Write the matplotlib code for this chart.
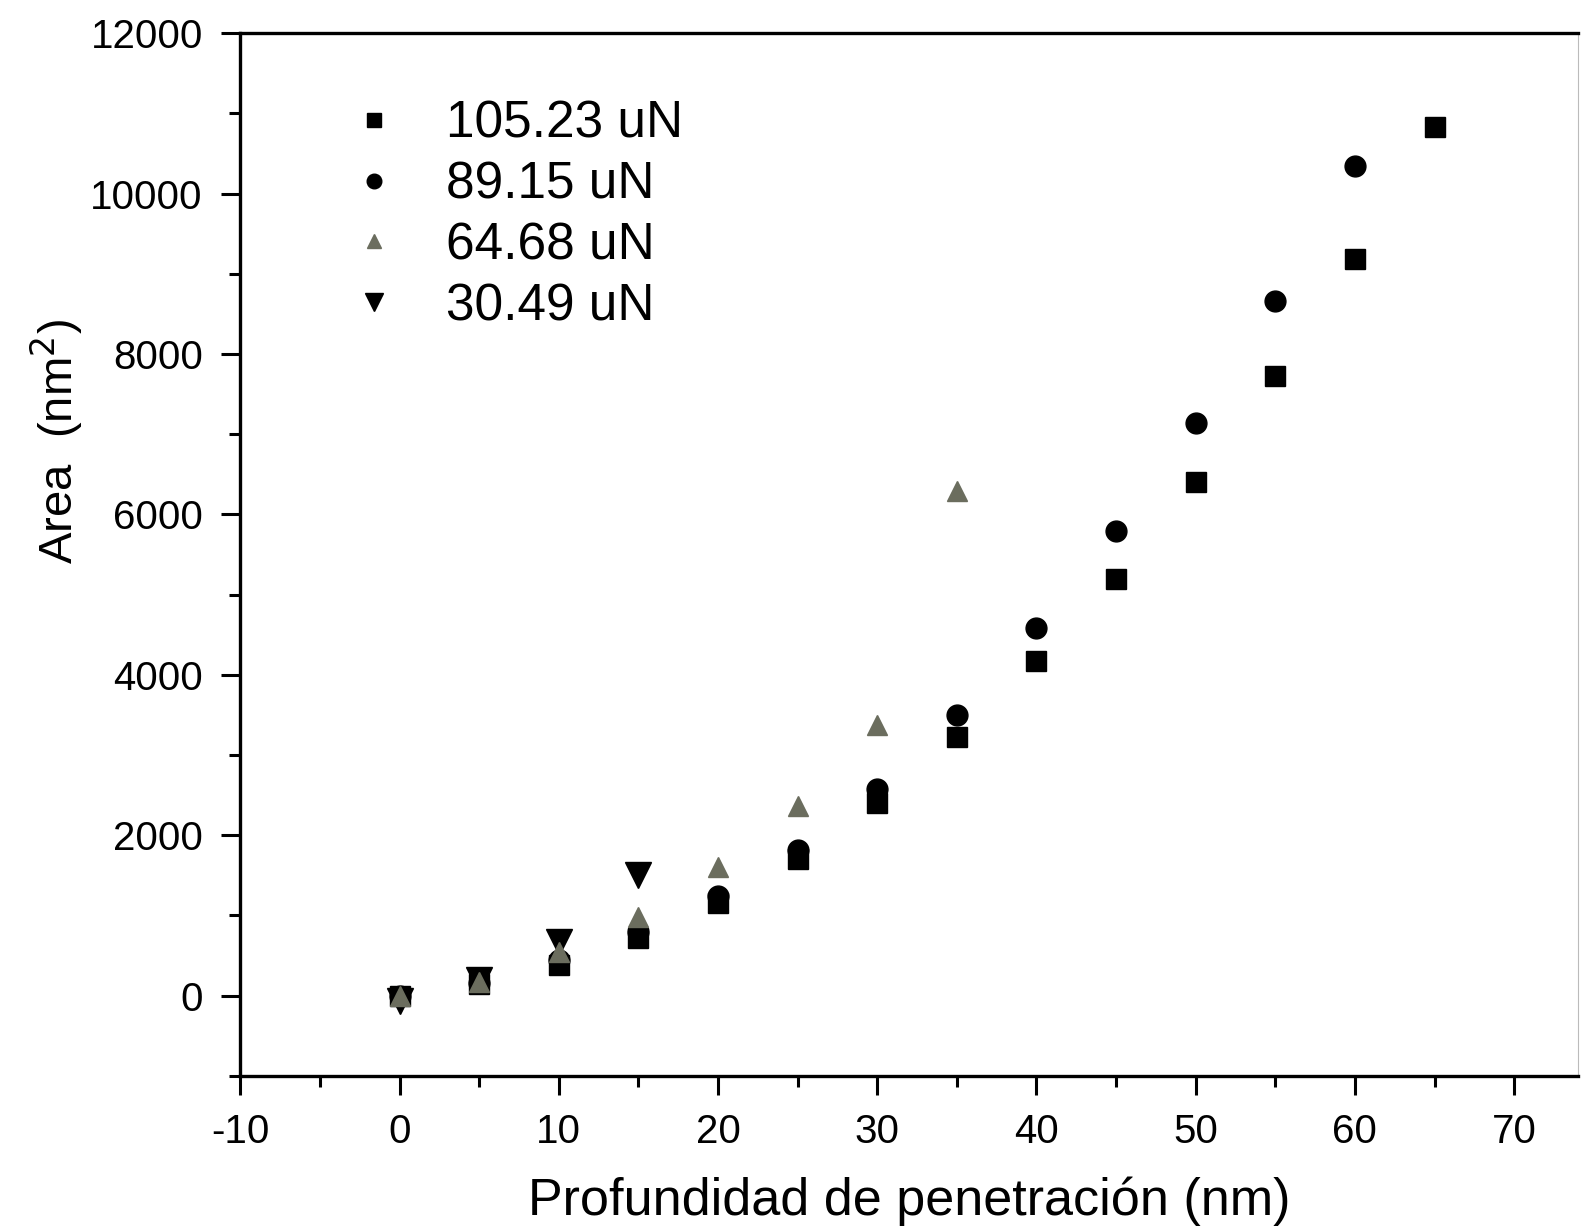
import matplotlib
matplotlib.use("Agg")
import matplotlib.pyplot as plt
from matplotlib.ticker import MultipleLocator

plt.rcParams['font.family'] = ['Liberation Sans', 'DejaVu Sans']
plt.rcParams['axes.unicode_minus'] = False

x_105 = [0, 5, 10, 15, 20, 25, 30, 35, 40, 45, 50, 55, 60, 65]
y_105 = [0, 150, 380, 720, 1150, 1700, 2400, 3230, 4170, 5200, 6400, 7730, 9180, 10830]

x_89 = [0, 5, 10, 15, 20, 25, 30, 35, 40, 45, 50, 55, 60]
y_89 = [0, 160, 450, 800, 1240, 1820, 2580, 3500, 4590, 5800, 7140, 8660, 10350]

x_64 = [0, 5, 10, 15, 20, 25, 30, 35]
y_64 = [0, 170, 540, 980, 1600, 2360, 3370, 6290]

x_30 = [0, 5, 10, 15]
y_30 = [-60, 200, 670, 1500]

labels = ["105.23 uN", "89.15 uN", "64.68 uN", "30.49 uN"]

fig = plt.figure(figsize=(15.81, 12.31), dpi=100)
ax = fig.add_axes([0.152, 0.126, 0.846, 0.847])

ax.plot(x_105, y_105, linestyle='none', marker='s', markersize=15, color='black', label=labels[0], zorder=3)
ax.plot(x_89, y_89, linestyle='none', marker='o', markersize=15, color='black', label=labels[1], zorder=2)
ax.plot(x_64, y_64, linestyle='none', marker='^', markersize=15, color='#6b6d5e', label=labels[2], zorder=4)
ax.plot(x_30, y_30, linestyle='none', marker='v', markersize=19, color='black', label=labels[3], zorder=1)

ax.set_xlim(-10, 74)
ax.set_ylim(-1000, 12000)
ax.xaxis.set_major_locator(MultipleLocator(10))
ax.xaxis.set_minor_locator(MultipleLocator(5))
ax.yaxis.set_major_locator(MultipleLocator(2000))
ax.yaxis.set_minor_locator(MultipleLocator(1000))

ax.tick_params(axis='both', which='major', direction='out', length=14, width=2.2, labelsize=29, pad=13)
ax.tick_params(axis='both', which='minor', direction='out', length=8, width=2.2)
ax.tick_params(top=False, right=False)
for s in ax.spines.values():
    s.set_linewidth(2.4)
ax.spines['right'].set_linewidth(0.8)
ax.spines['right'].set_color('#bbbbbb')

ax.set_xlabel("Profundidad de penetración (nm)", fontsize=37.5, labelpad=18)
ax.set_ylabel("Area  (nm$^2$)", fontsize=34, labelpad=4)
ax.yaxis.label.set_y(0.608)

leg = ax.legend(loc='upper left', bbox_to_anchor=(0.046, 0.956), frameon=False, fontsize=37,
                markerscale=0.7, handletextpad=0.4, labelspacing=0.23, borderaxespad=0)

fig.savefig("out.png", dpi=100)
